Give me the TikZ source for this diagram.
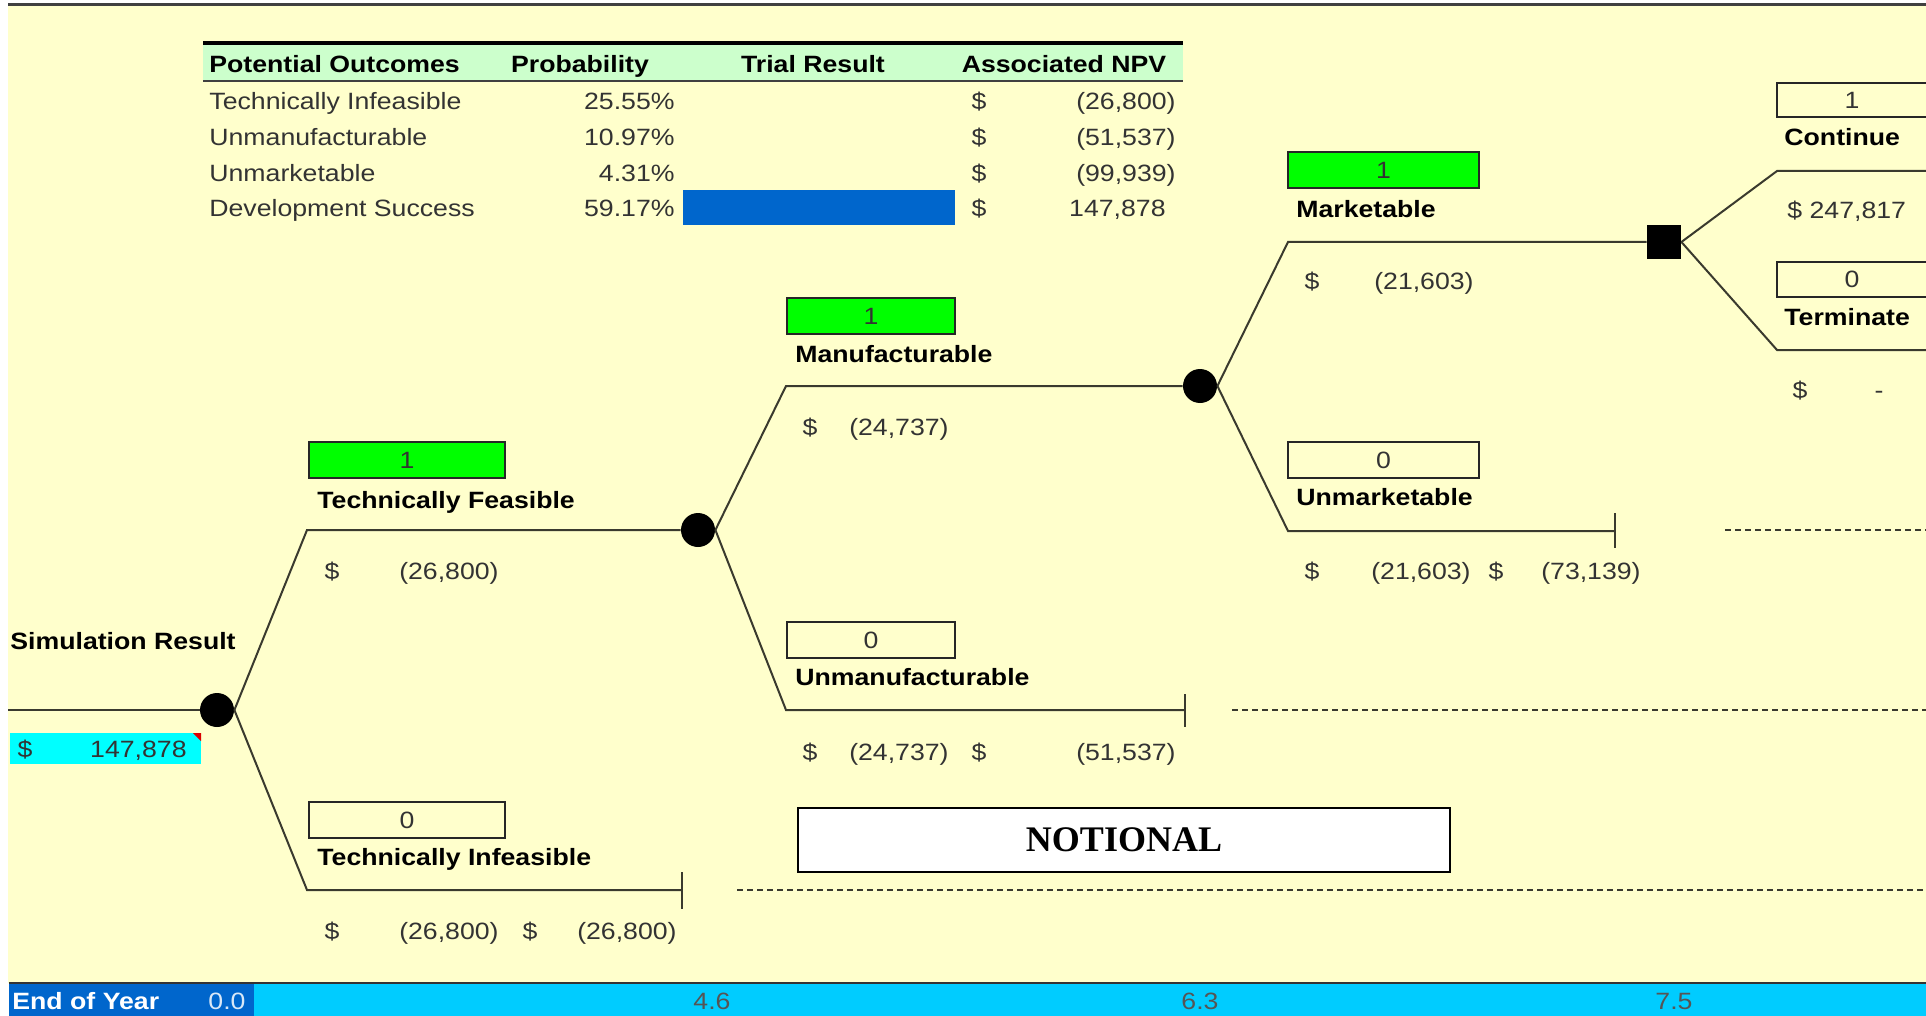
\documentclass[tikz,border=0pt]{standalone}
\usepackage{fontspec}
\setmainfont{Liberation Sans}[FakeStretch=1.13]
\newfontfamily\stampfont{Liberation Serif}

\definecolor{paper}{HTML}{FFFFCC}
\definecolor{hdrgreen}{HTML}{CCFFCC}
\definecolor{pickgreen}{HTML}{00FF00}
\definecolor{trialblue}{HTML}{0066CC}
\definecolor{resultcyan}{HTML}{00FFFF}
\definecolor{barcyan}{HTML}{00CCFF}
\definecolor{treeline}{HTML}{3A3A2E}
\definecolor{valtext}{HTML}{333333}
\definecolor{yeartext}{HTML}{555555}

\begin{document}
\begin{tikzpicture}[x=0.5pt,y=-0.5pt,
  font=\fontsize{11.8}{14}\selectfont,
  txt/.style={inner sep=0pt, text height=8.4pt, text depth=0pt},
  lbl/.style={txt, font=\fontsize{11.8}{14}\selectfont\bfseries, anchor=west},
  val/.style={txt, text=valtext},
  chance/.style={circle, fill=black, minimum size=17pt, inner sep=0pt},
  decision/.style={rectangle, fill=black, minimum size=17pt, inner sep=0pt},
  branch/.style={draw=treeline, line width=1pt},
  lead/.style={draw=treeline, line width=0.8pt, dash pattern=on 3pt off 2pt},
  outcome/.style={draw=black!85, line width=0.9pt, inner sep=0pt,
    minimum height=18pt, text=valtext, text height=8.4pt, text depth=0pt},
]
\useasboundingbox (0,0) rectangle (1926,1016);
\clip (0,0) rectangle (1926,1016);

% sheet background and frame
\fill[white] (0,0) rectangle (1926,1016);
\fill[paper] (8,6) rectangle (1926,983);
\draw[black!75, line width=1.5pt] (8,5) -- (1926,5);

% ---------- outcome table ----------
\fill[hdrgreen] (203,45) rectangle (1183,80);
\draw[black, line width=2pt] (203,43) -- (1183,43);
\draw[black!75, line width=1pt] (203,81) -- (1183,81);

\node[lbl] (hOut) at (209,64) {Potential Outcomes};
\node[lbl, anchor=center] (hProb) at (580,64) {Probability};
\node[lbl, anchor=center] (hTrial) at (813,64) {Trial Result};
\node[lbl, anchor=center] (hNpv) at (1064,64) {Associated NPV};

\fill[trialblue] (683,190) rectangle (955,225);

\node[val, anchor=west] (r1name) at (209,101) {Technically Infeasible};
\node[val, anchor=east] (r1prob) at (675,101) {25.55\%};
\node[val] (r1cur) at (979,101) {\$};
\node[val, anchor=east] (r1npv) at (1176,101) {(26,800)};

\node[val, anchor=west] (r2name) at (209,137) {Unmanufacturable};
\node[val, anchor=east] (r2prob) at (675,137) {10.97\%};
\node[val] (r2cur) at (979,137) {\$};
\node[val, anchor=east] (r2npv) at (1176,137) {(51,537)};

\node[val, anchor=west] (r3name) at (209,173) {Unmarketable};
\node[val, anchor=east] (r3prob) at (675,173) {4.31\%};
\node[val] (r3cur) at (979,173) {\$};
\node[val, anchor=east] (r3npv) at (1176,173) {(99,939)};

\node[val, anchor=west] (r4name) at (209,208) {Development Success};
\node[val, anchor=east] (r4prob) at (675,208) {59.17\%};
\node[val] (r4cur) at (979,208) {\$};
\node[val, anchor=east] (r4npv) at (1166,208) {147,878};

% ---------- decision tree ----------
\coordinate (start) at (8,710);
\node[chance] (root) at (217,710) {};
\coordinate (tfA) at (307,530);
\coordinate (tiA) at (307,890);
\coordinate (tiEnd) at (682,890);
\node[chance] (mfg) at (698,530) {};
\coordinate (mA) at (786,386);
\coordinate (umA) at (786,710);
\coordinate (umEnd) at (1185,710);
\node[chance] (mkt) at (1200,386) {};
\coordinate (kA) at (1288,242);
\coordinate (ukA) at (1288,531);
\coordinate (ukEnd) at (1615,531);
\node[decision] (go) at (1664,242) {};
\coordinate (cA) at (1777,171);
\coordinate (cEnd) at (1940,171);
\coordinate (tA) at (1777,350);
\coordinate (tEnd) at (1940,350);

\draw[branch] (start) -- (root);
\draw[branch] (root.east) -- (tfA) -- (mfg);
\draw[branch] (root.east) -- (tiA) -- (tiEnd);
\draw[branch] (mfg.east) -- (mA) -- (mkt);
\draw[branch] (mfg.east) -- (umA) -- (umEnd);
\draw[branch] (mkt.east) -- (kA) -- (go);
\draw[branch] (mkt.east) -- (ukA) -- (ukEnd);
\draw[branch] (go.east) -- (cA) -- (cEnd);
\draw[branch] (go.east) -- (tA) -- (tEnd);

% terminal stubs
\draw[branch] ([yshift=9pt]tiEnd) -- ([yshift=-9.5pt]tiEnd);
\draw[branch] ([yshift=8pt]umEnd) -- ([yshift=-8.5pt]umEnd);
\draw[branch] ([yshift=9pt]ukEnd) -- ([yshift=-8.5pt]ukEnd);

% dashed leaders to the horizon
\coordinate (tiLead) at (737,890);
\coordinate (tiLeadEnd) at (1926,890);
\coordinate (umLead) at (1232,710);
\coordinate (umLeadEnd) at (1926,710);
\coordinate (ukLead) at (1725,530);
\coordinate (ukLeadEnd) at (1926,530);
\draw[lead] (tiLead) -- (tiLeadEnd);
\draw[lead] (umLead) -- (umLeadEnd);
\draw[lead] (ukLead) -- (ukLeadEnd);

% root result
\node[lbl] (simLbl) at (10,641) {Simulation Result};
\node[fill=resultcyan, minimum width=95.5pt, minimum height=15.5pt, inner sep=0pt] (simBox) at (105.5,748.5) {};
\fill[red!85!black] (193,733) -- (201,733) -- (201,741) -- cycle;
\node[val] (simCur) at (25,749) {\$};
\node[val, anchor=east] (simVal) at (187,749) {147,878};

% Technically Feasible
\node[outcome, fill=pickgreen, minimum width=98pt] (tfBox) at (407,460) {1};
\node[lbl] (tfLbl) at (317,500) {Technically Feasible};
\node[val] (tfCur) at (332,571) {\$};
\node[val, anchor=east] (tfVal) at (499,571) {(26,800)};

% Technically Infeasible
\node[outcome, fill=paper, minimum width=98pt] (tiBox) at (407,820) {0};
\node[lbl] (tiLbl) at (317,857) {Technically Infeasible};
\node[val] (tiCur) at (332,931) {\$};
\node[val, anchor=east] (tiVal) at (499,931) {(26,800)};
\node[val] (tiCur2) at (530,931) {\$};
\node[val, anchor=east] (tiTot) at (677,931) {(26,800)};

% Manufacturable
\node[outcome, fill=pickgreen, minimum width=84pt] (mBox) at (871,316) {1};
\node[lbl] (mLbl) at (795,354) {Manufacturable};
\node[val] (mCur) at (810,427) {\$};
\node[val, anchor=east] (mVal) at (949,427) {(24,737)};

% Unmanufacturable
\node[outcome, fill=paper, minimum width=84pt] (umBox) at (871,640) {0};
\node[lbl] (umLbl) at (795,677) {Unmanufacturable};
\node[val] (umCur) at (810,752) {\$};
\node[val, anchor=east] (umVal) at (949,752) {(24,737)};
\node[val] (umCur2) at (979,752) {\$};
\node[val, anchor=east] (umTot) at (1176,752) {(51,537)};

% Marketable
\node[outcome, fill=pickgreen, minimum width=95.5pt] (kBox) at (1383.5,170) {1};
\node[lbl] (kLbl) at (1296,209) {Marketable};
\node[val] (kCur) at (1312,281) {\$};
\node[val, anchor=east] (kVal) at (1474,281) {(21,603)};

% Unmarketable
\node[outcome, fill=paper, minimum width=95.5pt] (ukBox) at (1383.5,460) {0};
\node[lbl] (ukLbl) at (1296,497) {Unmarketable};
\node[val] (ukCur) at (1312,571) {\$};
\node[val, anchor=east] (ukVal) at (1471,571) {(21,603)};
\node[val] (ukCur2) at (1496,571) {\$};
\node[val, anchor=east] (ukTot) at (1641,571) {(73,139)};

% Continue / Terminate
\node[outcome, fill=paper, minimum width=75pt, minimum height=17pt] (cBox) at (1852,100) {1};
\node[lbl] (cLbl) at (1784,137) {Continue};
\node[val, anchor=west] (cVal) at (1787,210) {\$ 247,817};
\node[outcome, fill=paper, minimum width=75pt, minimum height=17.5pt] (tBox) at (1852,279.5) {0};
\node[lbl] (tLbl) at (1784,317) {Terminate};
\node[val] (tCur) at (1800,390) {\$};
\node[val] (tVal) at (1879,390) {-};

% stamp
\node[draw=black, line width=1pt, fill=white, minimum width=326pt, minimum height=32pt,
      font=\stampfont\fontsize{18}{20}\selectfont\bfseries] (stamp) at (1124,840) {NOTIONAL};

% ---------- time axis ----------
\fill[trialblue] (9,983) rectangle (254,1016);
\fill[barcyan] (254,983) rectangle (1926,1016);
\draw[black!80, line width=1pt] (9,983) -- (1926,983);
\node[lbl, text=white] (eoy) at (12,1001) {End of Year};
\node[txt, text=white!85!trialblue] (y0) at (227,1001) {0.0};
\node[txt, text=yeartext] (y1) at (712,1001) {4.6};
\node[txt, text=yeartext] (y2) at (1200,1001) {6.3};
\node[txt, text=yeartext] (y3) at (1674,1001) {7.5};
\end{tikzpicture}
\end{document}
